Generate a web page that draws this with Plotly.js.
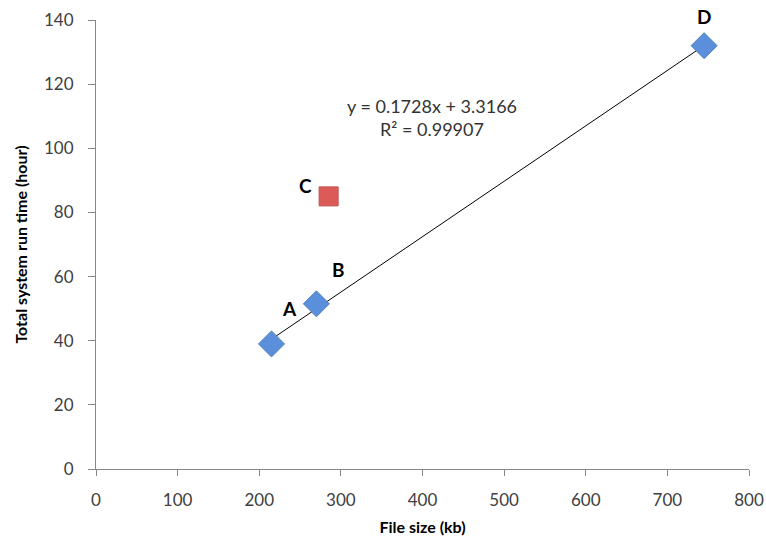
<!DOCTYPE html>
<html>
<head>
<meta charset="utf-8">
<script src="https://cdn.plot.ly/plotly-3.0.1.min.js"></script>
<style>html,body{margin:0;padding:0;background:#fff;}#chart{width:766px;height:545px;}</style>
</head>
<body>
<div id="chart"></div>
<script>
// Data
const blueLabels = ["A", "B", "D"];
const blueX = [215, 270, 745];
const blueY = [39, 51.5, 132];
const redLabels = ["C"];
const redX = [285];
const redY = [85];
const slope = 0.1728;
const intercept = 3.3166;
const r2 = 0.99907;
const xTicks = [0, 100, 200, 300, 400, 500, 600, 700, 800];
const yTicks = [0, 20, 40, 60, 80, 100, 120, 140];

const xMin = Math.min(...blueX), xMax = Math.max(...blueX);
const trendX = [xMin, xMax];
const trendY = trendX.map(v => slope * v + intercept);

const FONT = "Lato, 'Open Sans', sans-serif";
const labelFont = {family: FONT, size: 19, color: "#000"};

const traces = [
  {x: trendX, y: trendY, mode: "lines", line: {color: "#000", width: 1}, hoverinfo: "skip", showlegend: false},
  {x: blueX, y: blueY, mode: "markers", marker: {symbol: "diamond", size: 20, color: "#5b8fdb", line: {color: "#4f81bd", width: 1}}, showlegend: false},
  {x: redX, y: redY, mode: "markers", marker: {symbol: "square", size: 19, color: "#dc5a58", line: {color: "#c0504d", width: 1}}, showlegend: false}
];

const annotations = [];
// pixel offsets [dx, dy-up] of each point label
const offsets = {A: [18, 35], B: [22, 34], C: [-23, 11], D: [0, 29]};
blueLabels.forEach((l, i) => annotations.push({x: blueX[i], y: blueY[i], text: "<b>" + l + "</b>", showarrow: false, xshift: offsets[l][0], yshift: offsets[l][1], font: labelFont}));
redLabels.forEach((l, i) => annotations.push({x: redX[i], y: redY[i], text: "<b>" + l + "</b>", showarrow: false, xshift: offsets[l][0], yshift: offsets[l][1], font: labelFont}));
annotations.push({x: 412, y: 109.6, xref: "x", yref: "y", showarrow: false, align: "center",
  text: "y = " + slope + "x + " + intercept + "<br>R\u00B2 = " + r2,
  font: {family: FONT, size: 18, color: "#333"}});

const axisCommon = {showgrid: false, zeroline: false, showline: true, linecolor: "#878787", linewidth: 1,
  ticks: "outside", tickcolor: "#878787", tickfont: {family: FONT, size: 17, color: "#404040"}};

const layout = {
  width: 766, height: 545,
  margin: {l: 96, r: 17, t: 20, b: 76},
  paper_bgcolor: "#fff", plot_bgcolor: "#fff",
  xaxis: Object.assign({}, axisCommon, {range: [0, 800], tickvals: xTicks, ticklen: 6, ticklabelstandoff: 10,
    title: {text: "<b>File size (kb)</b>", font: {family: FONT, size: 16, color: "#000"}, standoff: 12}}),
  yaxis: Object.assign({}, axisCommon, {range: [0, 140], tickvals: yTicks, ticklen: 7, ticklabelstandoff: 11,
    title: {text: "<b>Total system run time (hour)</b>", font: {family: FONT, size: 16, color: "#000"}, standoff: 12}}),
  annotations: annotations
};

Plotly.newPlot("chart", traces, layout, {displayModeBar: false, staticPlot: true});
</script>
</body>
</html>
